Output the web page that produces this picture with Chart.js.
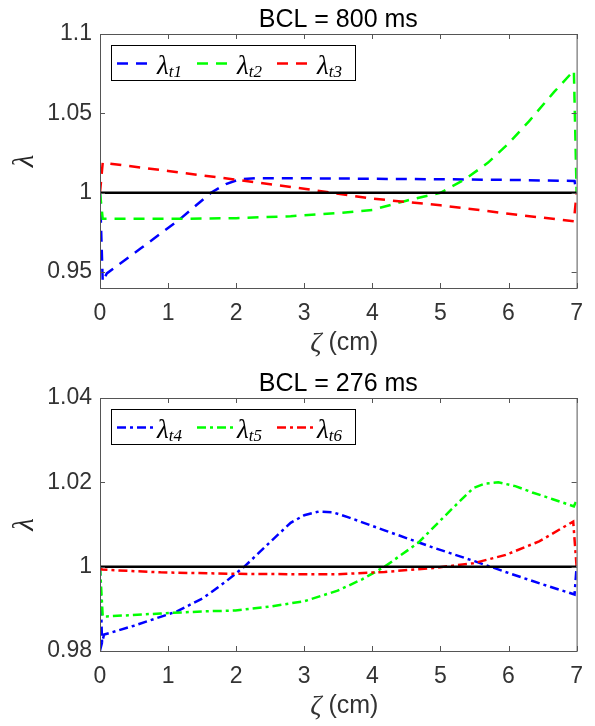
<!DOCTYPE html>
<html>
<head>
<meta charset="utf-8">
<script src="https://cdn.jsdelivr.net/npm/chart.js@4/dist/chart.umd.min.js"></script>
<style>
  body { margin: 0; background: #fff; }
  .panel { position: absolute; left: 0; width: 595px; height: 363px; }
</style>
</head>
<body>
<div class="panel" style="top:0"><canvas id="bcl800" width="595" height="363"></canvas></div>
<div class="panel" style="top:363px"><canvas id="bcl276" width="595" height="363"></canvas></div>
<script>
// axial position zeta (cm) and stretch lambda along the fibre
const xTicks = [0, 1, 2, 3, 4, 5, 6, 7];

// BCL = 800 ms
const yTicks800 = [0.95, 1, 1.05, 1.1];
const yLabels800 = ["0.95", "1", "1.05", "1.1"];
const zetaT1 = [0, 0.04, 0.1, 0.6, 1.18, 1.63, 1.85, 2.05, 2.3, 3, 4, 5, 6, 6.97, 7];
const lamT1 = [1.0, 0.944, 0.9492, 0.965, 0.9836, 1.0, 1.0055, 1.0085, 1.0092, 1.0091, 1.0088, 1.0085, 1.0081, 1.0074, 1.0];
const zetaT2 = [0, 0.04, 0.5, 1.2, 2, 2.8, 3.5, 4, 4.5, 5, 5.36, 5.7, 6, 6.3, 6.67, 6.96, 7];
const lamT2 = [1.0, 0.9836, 0.9836, 0.9836, 0.984, 0.9852, 0.9872, 0.9892, 0.995, 1.0, 1.0084, 1.019, 1.031, 1.045, 1.0635, 1.077, 1.0];
const zetaT3 = [0, 0.04, 0.12, 1, 2, 3, 4, 5, 6, 6.96, 7];
const lamT3 = [1.0, 1.019, 1.0185, 1.0137, 1.0082, 1.0025, 0.9963, 0.9921, 0.9868, 0.982, 1.0];

// BCL = 276 ms
const yTicks276 = [0.98, 1, 1.02, 1.04];
const yLabels276 = ["0.98", "1", "1.02", "1.04"];
const zetaT4 = [0, 0.03, 0.06, 0.17, 0.5, 0.89, 1.13, 1.52, 1.85, 2.12, 2.53, 2.8, 3.0, 3.22, 3.42, 3.65, 4.2, 4.9, 5.5, 6.0, 6.5, 6.97, 7];
const lamT4 = [1.0, 0.982, 0.9839, 0.9844, 0.986, 0.9881, 0.9894, 0.9926, 0.9965, 1.0, 1.0063, 1.0104, 1.0122, 1.0131, 1.0129, 1.0117, 1.0085, 1.0045, 1.0013, 0.9985, 0.9958, 0.9934, 1.0];
const zetaT5 = [0, 0.04, 0.1, 0.89, 1.52, 1.99, 2.48, 3.0, 3.49, 3.85, 4.18, 4.67, 5.15, 5.48, 5.65, 5.85, 6.1, 6.35, 6.65, 6.96, 7];
const lamT5 = [1.0, 0.9882, 0.9882, 0.9889, 0.9894, 0.9896, 0.9905, 0.9918, 0.9943, 0.997, 1.0, 1.0056, 1.0134, 1.0186, 1.0197, 1.02, 1.0191, 1.0176, 1.016, 1.0143, 1.0158];
const zetaT6 = [0, 0.03, 0.89, 1.99, 3.0, 3.49, 4.18, 4.9, 5.48, 5.96, 6.45, 6.95, 7];
const lamT6 = [1.0, 0.9993, 0.99865, 0.9983, 0.9982, 0.9982, 0.99874, 0.9997, 1.0008, 1.0028, 1.006, 1.0107, 1.0];

const refZeta = [0, 7];
const refLam = [1, 1];

function pts(xs, ys) {
  return xs.map((x, i) => ({ x: x, y: ys[i] }));
}

function series(label, sub, xs, ys, color, dash, order) {
  return {
    label: label,
    sub: sub,
    data: pts(xs, ys),
    borderColor: color,
    borderWidth: 2.5,
    borderDash: dash,
    pointRadius: 0,
    tension: 0,
    fill: false,
    order: order,
  };
}

const tickFont = { family: "Liberation Sans", size: 23 };
const tickColor = "#333";

// frame, inward ticks, titles and the legend box drawn on top of the plot
const matlabLook = {
  id: "matlabLook",
  afterDraw(chart, args, opts) {
    const ctx = chart.ctx;
    const a = chart.chartArea;
    const xs = chart.scales.x;
    const ys = chart.scales.y;
    ctx.save();

    // box
    ctx.strokeStyle = "#555";
    ctx.lineWidth = 1;
    ctx.setLineDash([]);
    ctx.strokeRect(Math.round(a.left) + 0.5, Math.round(a.top) + 0.5, a.right - a.left, a.bottom - a.top);

    // ticks pointing inward on all four sides
    ctx.beginPath();
    for (const t of xs.ticks) {
      const px = Math.round(xs.getPixelForValue(t.value)) + 0.5;
      ctx.moveTo(px, a.bottom); ctx.lineTo(px, a.bottom - 5);
      ctx.moveTo(px, a.top); ctx.lineTo(px, a.top + 5);
    }
    for (const t of ys.ticks) {
      const py = Math.round(ys.getPixelForValue(t.value)) + 0.5;
      ctx.moveTo(a.left, py); ctx.lineTo(a.left + 5, py);
      ctx.moveTo(a.right, py); ctx.lineTo(a.right - 5, py);
    }
    ctx.stroke();

    // title
    const cx = (a.left + a.right) / 2;
    ctx.fillStyle = "#000";
    ctx.font = '25px "Liberation Sans"';
    ctx.textAlign = "center";
    ctx.textBaseline = "alphabetic";
    ctx.fillText(opts.title, cx, a.top - 7);

    // y label
    ctx.save();
    ctx.translate(25, (a.top + a.bottom) / 2);
    ctx.rotate(-Math.PI / 2);
    ctx.font = 'italic 29px "Liberation Serif"';
    ctx.textBaseline = "middle";
    ctx.fillStyle = "#262626";
    ctx.fillText("λ", 0, 0);
    ctx.restore();

    // x label: italic zeta followed by the unit
    ctx.textAlign = "left";
    ctx.fillStyle = "#333";
    ctx.font = 'italic 28px "Liberation Serif"';
    const wz = ctx.measureText("ζ").width;
    ctx.font = '25px "Liberation Sans"';
    const wu = ctx.measureText(" (cm)").width;
    const x0 = cx + 6 - (wz + wu) / 2;
    ctx.font = 'italic 28px "Liberation Serif"';
    ctx.fillText("ζ", x0, a.bottom + 63);
    ctx.font = '25px "Liberation Sans"';
    ctx.fillText(" (cm)", x0 + wz, a.bottom + 62);

    // legend
    const lx = Math.round(a.left) + 11, ly = Math.round(a.top) + 11;
    ctx.fillStyle = "#fff";
    ctx.fillRect(lx, ly, 244, 36);
    ctx.strokeStyle = "#000";
    ctx.lineWidth = 1;
    ctx.strokeRect(lx + 0.5, ly + 0.5, 244, 35);
    const items = chart.data.datasets.filter(d => d.sub);
    items.forEach((d, i) => {
      const sx = lx + 6 + i * 80;
      const sy = ly + 18.5;
      ctx.strokeStyle = d.borderColor;
      ctx.lineWidth = 2.5;
      ctx.setLineDash(d.borderDash);
      ctx.beginPath();
      ctx.moveTo(sx, sy);
      ctx.lineTo(sx + 36, sy);
      ctx.stroke();
      ctx.setLineDash([]);
      ctx.fillStyle = "#000";
      ctx.font = 'italic 27px "Liberation Serif"';
      ctx.fillText("λ", sx + 40, ly + 29);
      const wl = ctx.measureText("λ").width;
      ctx.font = 'italic 17px "Liberation Serif"';
      ctx.fillText(d.sub, sx + 40 + wl, ly + 32);
    });
    ctx.restore();
  },
};

function makePlot(id, title, yMin, yMax, yTicks, yLabels, datasets, padTop) {
  return new Chart(document.getElementById(id), {
    type: "line",
    data: { datasets: datasets },
    options: {
      responsive: false,
      animation: false,
      layout: { padding: { top: padTop, right: 10, left: 0, bottom: 0 } },
      plugins: {
        legend: { display: false },
        tooltip: { enabled: false },
        matlabLook: { title: title },
      },
      scales: {
        x: {
          type: "linear",
          min: 0,
          max: 7,
          grid: { display: false, drawTicks: false },
          border: { display: false },
          afterBuildTicks: s => { s.ticks = xTicks.map(v => ({ value: v })); },
          afterFit: s => { s.height = 75; },
          ticks: { font: tickFont, color: tickColor, padding: 12, maxRotation: 0, autoSkip: false },
        },
        y: {
          type: "linear",
          min: yMin,
          max: yMax,
          grid: { display: false, drawTicks: false },
          border: { display: false },
          afterBuildTicks: s => { s.ticks = yTicks.map(v => ({ value: v })); },
          afterFit: s => { s.width = 100; },
          ticks: {
            font: tickFont,
            color: tickColor,
            padding: 8,
            autoSkip: false,
            callback: (v, i) => yLabels[i],
          },
        },
      },
    },
    plugins: [matlabLook],
  });
}

const dashed = [11, 8];
const dashDot = [9, 4, 3, 4];

makePlot("bcl800", "BCL = 800 ms", 0.94, 1.1, yTicks800, yLabels800, [
  series("λt1", "t1", zetaT1, lamT1, "#0000ff", dashed, 3),
  series("λt2", "t2", zetaT2, lamT2, "#00ff00", dashed, 2),
  series("λt3", "t3", zetaT3, lamT3, "#ff0000", dashed, 1),
  { label: "λ = 1", data: pts(refZeta, refLam), borderColor: "#000", borderWidth: 2.5, pointRadius: 0, order: 0 },
], 34);

makePlot("bcl276", "BCL = 276 ms", 0.98, 1.04, yTicks276, yLabels276, [
  series("λt4", "t4", zetaT4, lamT4, "#0000ff", dashDot, 3),
  series("λt5", "t5", zetaT5, lamT5, "#00ff00", dashDot, 2),
  series("λt6", "t6", zetaT6, lamT6, "#ff0000", dashDot, 1),
  { label: "λ = 1", data: pts(refZeta, refLam), borderColor: "#000", borderWidth: 2.5, pointRadius: 0, order: 0 },
], 35);
</script>
</body>
</html>
